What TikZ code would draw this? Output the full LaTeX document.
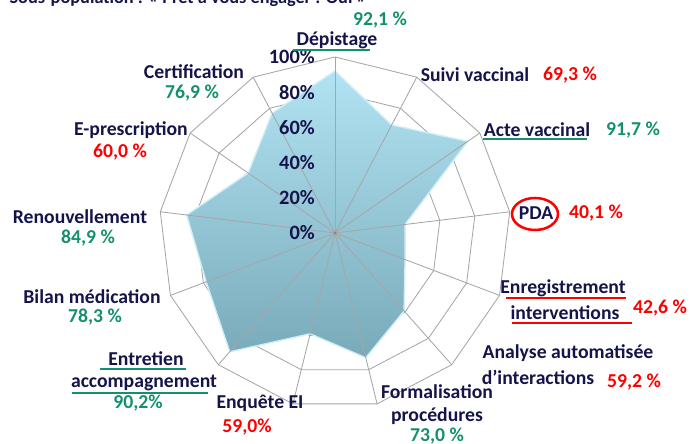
\documentclass[tikz,border=0pt]{standalone}
\usepackage{fontspec}
\setmainfont{Carlito}
\usepackage{tikz}
\definecolor{navy}{HTML}{14144A}
\definecolor{vert}{HTML}{14906E}
\definecolor{rouge}{HTML}{FF0000}
\definecolor{grille}{HTML}{A6A6A6}
\definecolor{ciel}{HTML}{B2E3F3}
\definecolor{ardoise}{HTML}{78AABA}

\begin{document}
\begin{tikzpicture}[x=0.025cm,y=0.025cm,
	axe/.style={font=\bfseries\fontsize{14}{16}\selectfont,text=navy,inner sep=0pt},
	ok/.style={font=\bfseries\fontsize{14}{16}\selectfont,text=vert,inner sep=0pt},
	ko/.style={font=\bfseries\fontsize{14}{16}\selectfont,text=rouge,inner sep=0pt},
	echelle/.style={font=\bfseries\fontsize{14.5}{16}\selectfont,text=navy,anchor=east,inner sep=0pt},
	souligne/.style={line width=1.6pt}]
\useasboundingbox (0,0) rectangle (690,444);

% grille
\begin{scope}[shift={(335,211)}]
\foreach \r in {35.2,70.4,105.6,140.8,176}
	\draw[grille,line width=0.6pt] (90:\r) \foreach \k in {1,...,12}{ -- ({90-\k*360/13}:\r)} -- cycle;
\foreach \v [count=\k from 0] in {92.1,69.3,91.7,40.1,42.6,59.2,73.0,59.0,90.2,78.3,84.9,60.0,76.9}
	\coordinate (p\k) at ({90-\k*360/13}:{1.76*\v});
\path[top color=ciel,bottom color=ardoise,draw=ciel!60!white,line width=1pt]
	(p0) -- (p1) -- (p2) -- (p3) -- (p4) -- (p5) -- (p6) -- (p7) -- (p8) -- (p9) -- (p10) -- (p11) -- (p12) -- cycle;
\foreach \k in {0,...,12}
	\draw[grille,line width=0.6pt] (0,0) -- ({90-\k*360/13}:176);
\fill[grille!80!black] (0,0) circle (1.5);
\end{scope}

% echelle
\node[echelle] (e0) at (315,211) {0\%};
\node[echelle] (e20) at (315,246.2) {20\%};
\node[echelle] (e40) at (315,281.4) {40\%};
\node[echelle] (e60) at (315,316.6) {60\%};
\node[echelle] (e80) at (315,351.8) {80\%};
\node[echelle] (e100) at (315,387) {100\%};

% titre coupe
\node[axe,font=\bfseries\fontsize{13}{14}\selectfont] (titre) at (188,445) {Sous-population : « Prêt à vous engager : Oui »};

% libelles
\node[ok] (v921) at (380,424) {92,1 \%};
\node[axe] (depistage) at (337,404) {Dépistage};
\draw[vert,souligne] (293,394) -- (370,394);

\node[axe] (suivi) at (475,369) {Suivi vaccinal};
\node[ko] (v693) at (570,369) {69,3 \%};

\node[axe] (acte) at (537,314) {Acte vaccinal};
\draw[vert,souligne] (483,305) -- (587,305);
\node[ok] (v917) at (633,314) {91,7 \%};

\node[axe] (pda) at (536,231) {PDA};
\draw[rouge,line width=1.8pt] (535,230) ellipse (23 and 16);
\node[ko] (v401) at (596,231) {40,1 \%};

\node[axe] (enreg) at (563,156) {Enregistrement};
\draw[rouge,souligne] (506,146) -- (626,146);
\node[axe] (interv) at (565,131) {interventions};
\draw[rouge,souligne] (512,121) -- (632,121);
\node[ko] (v426) at (660,136) {42,6 \%};

\node[axe] (analyse) at (568,91) {Analyse automatisée};
\node[axe] (interact) at (538,67) {d’interactions};
\node[ko] (v592) at (634,62) {59,2 \%};

\node[axe] (formal) at (437,52) {Formalisation};
\node[axe] (proc) at (437,28) {procédures};
\node[ok] (v730) at (437,8) {73,0 \%};

\node[axe] (enquete) at (260,41) {Enquête EI};
\node[ko] (v590) at (247,17) {59,0\%};

\node[axe] (entretien) at (146,85) {Entretien};
\draw[vert,souligne] (100,75) -- (186,75);
\node[axe] (accomp) at (144,61) {accompagnement};
\draw[vert,souligne] (72,51) -- (208,51);
\node[ok] (v902) at (138,41) {90,2\%};

\node[axe] (bilan) at (92,147) {Bilan médication};
\node[ok] (v783) at (95,127) {78,3 \%};

\node[axe] (renouv) at (80,227) {Renouvellement};
\node[ok] (v849) at (88,206) {84,9 \%};

\node[axe] (epresc) at (131,314) {E-prescription};
\node[ko] (v600) at (120,292) {60,0 \%};

\node[axe] (certif) at (194,372) {Certification};
\node[ok] (v769) at (192,351) {76,9 \%};

\end{tikzpicture}
\end{document}
